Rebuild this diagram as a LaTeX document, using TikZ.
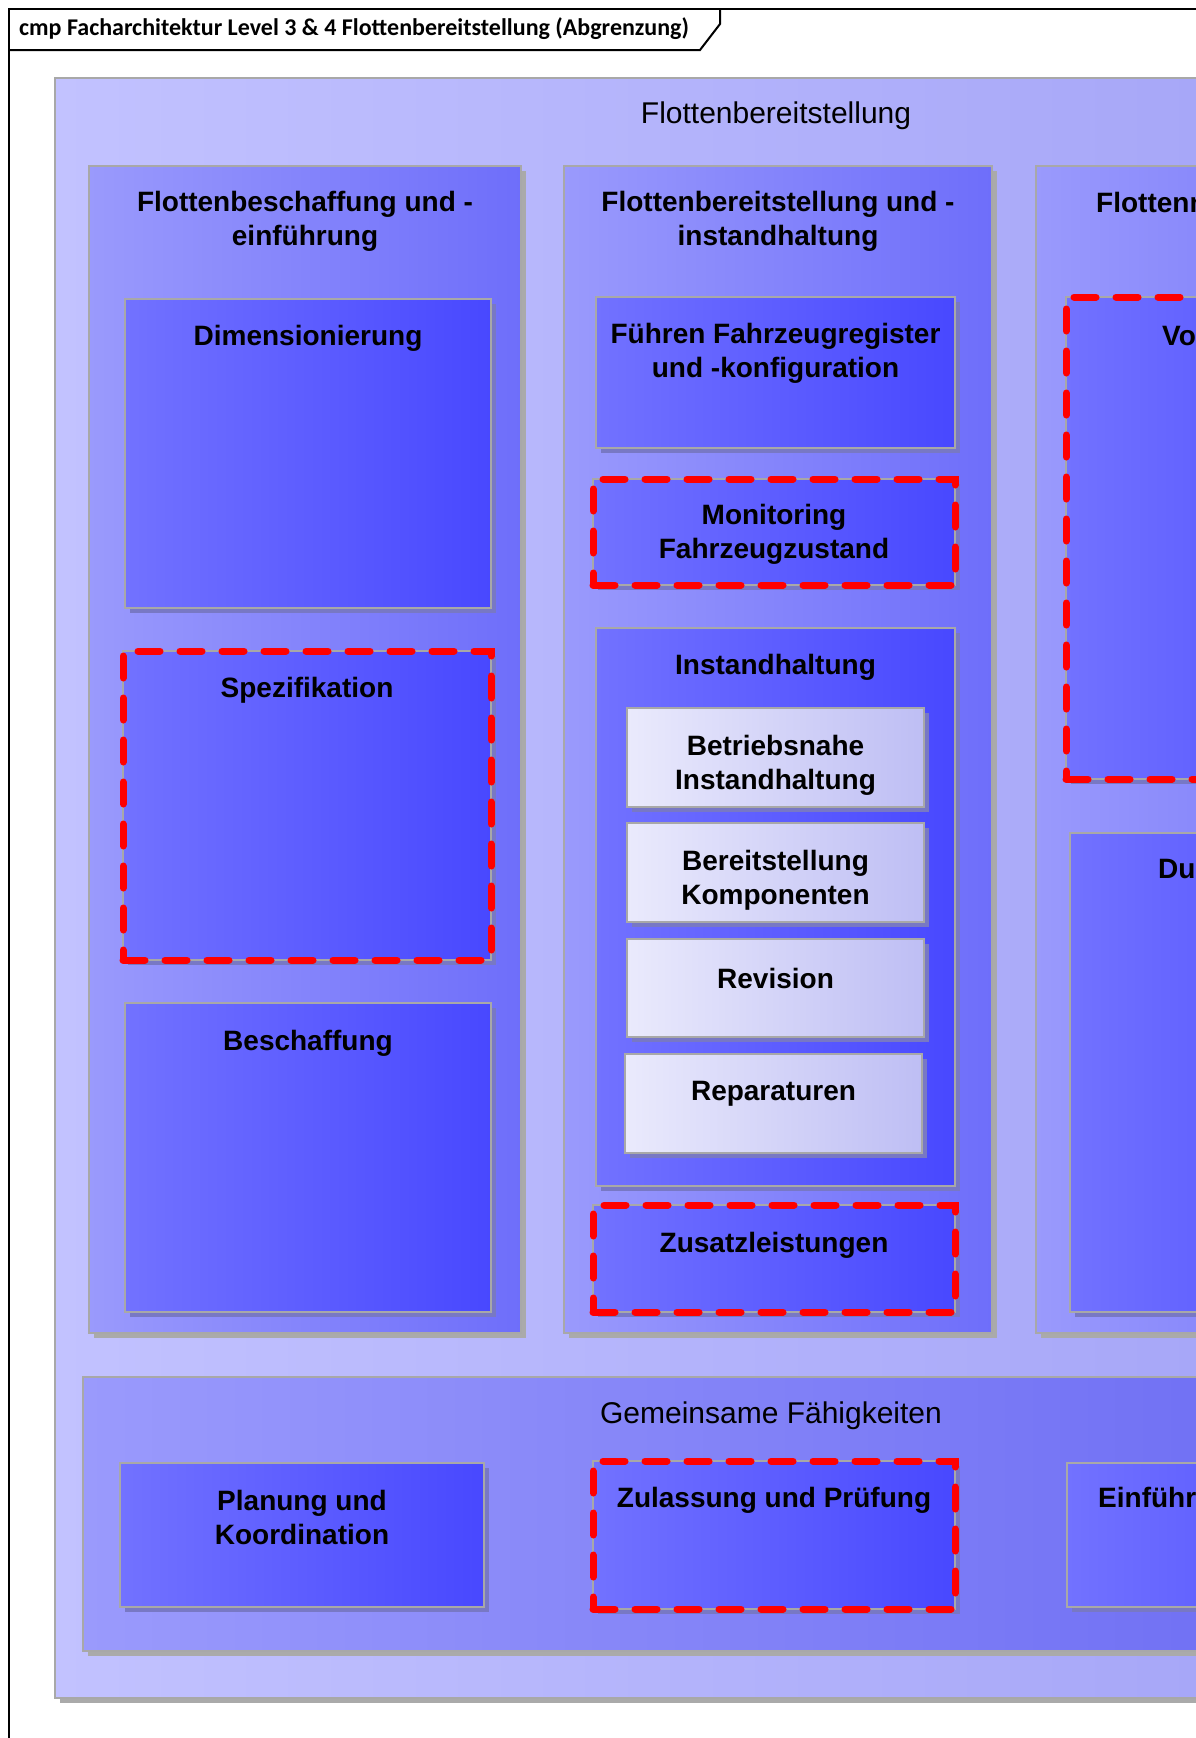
\documentclass[tikz,border=0pt]{standalone}
\usepackage{fontspec}
\setmainfont{Liberation Sans}
\newfontfamily\framefont{Carlito}
\usetikzlibrary{positioning,shadows}

\definecolor{boxline}{RGB}{168,168,168}
\definecolor{shadegray}{RGB}{170,170,170}
\definecolor{shadeblue}{RGB}{120,120,196}
\definecolor{pkgL}{RGB}{194,194,255}
\definecolor{pkgR}{RGB}{160,160,246}
\definecolor{colL}{RGB}{154,154,252}
\definecolor{colR}{RGB}{110,110,250}
\definecolor{gemR}{RGB}{104,104,242}
\definecolor{blkL}{RGB}{114,114,255}
\definecolor{blkR}{RGB}{72,72,255}
\definecolor{liteL}{RGB}{234,234,252}
\definecolor{liteR}{RGB}{190,190,244}
\definecolor{dashred}{RGB}{255,0,0}

\tikzset{
  box/.style={draw=boxline, line width=1.5pt, anchor=north west, inner sep=0pt, outer sep=0pt},
  pkg/.style={box, left color=pkgL, right color=pkgR,
    drop shadow={shadow xshift=5pt, shadow yshift=-5pt, fill=shadegray, opacity=1}},
  col/.style={box, left color=colL, right color=colR,
    drop shadow={shadow xshift=5pt, shadow yshift=-5pt, fill=shadegray, opacity=1}},
  gem/.style={col, right color=gemR},
  blk/.style={box, left color=blkL, right color=blkR,
    drop shadow={shadow xshift=5pt, shadow yshift=-5pt, fill=shadeblue, opacity=1}},
  lite/.style={box, left color=liteL, right color=liteR,
    drop shadow={shadow xshift=5pt, shadow yshift=-5pt, fill=shadeblue, opacity=1}},
  scoped/.style={postaction={draw=dashred, line width=7pt, line cap=round, dash pattern=on 22pt off 20pt}},
  ttl/.style={font=\bfseries\fontsize{28}{34}\selectfont, align=center, inner sep=0pt, yshift=-3pt},
  pkgttl/.style={font=\fontsize{30}{36}\selectfont, inner sep=0pt, yshift=-3pt},
  frame/.style={draw=black, line width=2pt},
  frametitle/.style={font=\framefont\bfseries\fontsize{24}{28}\selectfont, inner sep=0pt}
}

\begin{document}
\begin{tikzpicture}[x=1pt,y=-1pt]
\useasboundingbox (0,0) rectangle (1196,1738);
\clip (0,0) rectangle (1196,1738);
\fill[white] (0,0) rectangle (1196,1738);

% diagram frame
\draw[frame] (9,1760) -- (9,9) -- (1220,9);
\draw[frame] (9,50) -- (700,50) -- (720,24) -- (720,9);
\node[frametitle, anchor=west] (frT) at (19,29) {cmp Facharchitektur Level 3 \& 4 Flottenbereitstellung (Abgrenzung)};

% package Flottenbereitstellung
\node[pkg, minimum width=1442pt, minimum height=1620pt] (fb) at (55,78) {};
\node[pkgttl] (fbT) at (776,113) {Flottenbereitstellung};

% column 1
\node[col, minimum width=432pt, minimum height=1167pt] (c1) at (89,166) {};
\node[ttl] (c1T) at ([yshift=-52.5pt]c1.north) {Flottenbeschaffung und -\\einführung};
\node[blk, minimum width=366pt, minimum height=309pt] (dim) at (125,299) {};
\node[ttl] (dimT) at ([yshift=-36pt]dim.north) {Dimensionierung};
\node[blk, scoped, minimum width=368pt, minimum height=309pt] (spe) at (123,651) {};
\node[ttl] (speT) at ([yshift=-36pt]spe.north) {Spezifikation};
\node[blk, minimum width=366pt, minimum height=309pt] (bes) at (125,1003) {};
\node[ttl] (besT) at ([yshift=-37pt]bes.north) {Beschaffung};

% column 2
\node[col, minimum width=428pt, minimum height=1167pt] (c2) at (564,166) {};
\node[ttl] (c2T) at ([yshift=-52.5pt]c2.north) {Flottenbereitstellung und -\\instandhaltung};
\node[blk, minimum width=359pt, minimum height=151pt] (fueh) at (596,297) {};
\node[ttl] (fuehT) at ([yshift=-53pt]fueh.north) {Führen Fahrzeugregister\\und -konfiguration};
\node[blk, scoped, minimum width=362pt, minimum height=106pt] (mon) at (593,479) {};
\node[ttl] (monT) at ([yshift=-52pt]mon.north) {Monitoring\\Fahrzeugzustand};
\node[blk, minimum width=359pt, minimum height=558pt] (ins) at (596,628) {};
\node[ttl] (insT) at ([yshift=-36pt]ins.north) {Instandhaltung};
\node[lite, minimum width=297pt, minimum height=99pt] (betr) at (627,708) {};
\node[ttl] (betrT) at ([yshift=-54pt]betr.north) {Betriebsnahe\\Instandhaltung};
\node[lite, minimum width=297pt, minimum height=99pt] (ber) at (627,823) {};
\node[ttl] (berT) at ([yshift=-54pt]ber.north) {Bereitstellung\\Komponenten};
\node[lite, minimum width=297pt, minimum height=98pt] (rev) at (627,939) {};
\node[ttl] (revT) at ([yshift=-36pt]rev.north) {Revision};
\node[lite, minimum width=297pt, minimum height=99pt] (rep) at (625,1054) {};
\node[ttl] (repT) at ([yshift=-37pt]rep.north) {Reparaturen};
\node[blk, scoped, minimum width=362pt, minimum height=107pt] (zus) at (593,1205) {};
\node[ttl] (zusT) at ([yshift=-37pt]zus.north) {Zusatzleistungen};

% column 3 (cut off at the right edge)
\node[col, minimum width=428pt, minimum height=1167pt] (c3) at (1036,166) {};
\node[ttl, anchor=west] (c3T) at (1096,202) {Flottennutzung};
\node[blk, scoped, minimum width=362pt, minimum height=482pt] (vo) at (1066,297) {};
\node[ttl, anchor=west] (voT) at (1162,335) {Vorbereitung};
\node[blk, minimum width=362pt, minimum height=479pt] (du) at (1070,833) {};
\node[ttl, anchor=west] (duT) at (1158,868) {Durchführung};

% package Gemeinsame Faehigkeiten
\node[gem, minimum width=1376pt, minimum height=274pt] (gf) at (83,1377) {};
\node[pkgttl] (gfT) at (771,1413) {Gemeinsame Fähigkeiten};
\node[blk, minimum width=364pt, minimum height=144pt] (plan) at (120,1463) {};
\node[ttl] (planT) at ([yshift=-51.5pt]plan.north) {Planung und\\Koordination};
\node[blk, scoped, minimum width=362pt, minimum height=148pt] (zul) at (593,1461) {};
\node[ttl] (zulT) at ([yshift=-36pt]zul.north) {Zulassung und Prüfung};
\node[blk, minimum width=364pt, minimum height=144pt] (ein) at (1067,1463) {};
\node[ttl, anchor=west] (einT) at (1098,1497) {Einführung};
\end{tikzpicture}
\end{document}
